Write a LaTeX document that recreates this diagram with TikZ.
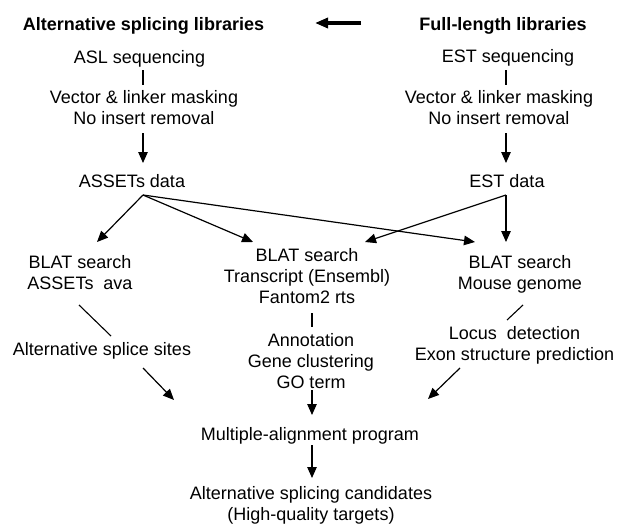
\documentclass[tikz,border=0pt]{standalone}
\usepackage{fontspec}
\setmainfont{Liberation Sans}
\usetikzlibrary{arrows.meta}
\begin{document}
\begin{tikzpicture}[x=1pt,y=-1pt,
  txt/.style={font=\fontsize{18}{20.8}\selectfont, inner sep=0pt, outer sep=0pt, align=center, anchor=base},
  ttl/.style={txt, font=\fontsize{18}{20.8}\selectfont\bfseries},
  arr/.style={line width=1.2pt, -{Triangle[length=11pt,width=9.5pt]}},
  ln/.style={line width=1.1pt},
  big/.style={line width=3.3pt, -{Triangle[length=13pt,width=10pt]}}]
\useasboundingbox (0,0) rectangle (618,525);

% titles (anchor = baseline; multi-line nodes are placed by their last baseline)
\node[ttl] (tl) at (143.5,30) {Alternative splicing libraries};
\node[ttl] (tr) at (503,30) {Full-length libraries};
\coordinate (bigS) at (361,23);
\coordinate (bigE) at (315,23);
\draw[big] (bigS) -- (bigE);

% left column top
\node[txt] (asl) at (139.5,63) {ASL sequencing};
\node[txt] (vecL) at (144,124) {Vector \& linker masking\\No insert removal};
\node[txt] (assets) at (132,187) {ASSETs data};

% right column top
\node[txt] (ests) at (508,62) {EST sequencing};
\node[txt] (vecR) at (499,124) {Vector \& linker masking\\No insert removal};
\node[txt] (est) at (507,187) {EST data};

% BLAT searches
\node[txt] (b1) at (80,289) {BLAT search\\ASSETs~ ava};
\node[txt] (b2) at (307,303) {BLAT search\\Transcript (Ensembl)\\Fantom2 rts};
\node[txt] (b3) at (520,289) {BLAT search\\Mouse genome};

% analyses
\node[txt] (alt) at (102,355) {Alternative splice sites};
\node[txt] (ann) at (311,388) {Annotation\\Gene clustering\\GO term};
\node[txt] (loc) at (514.5,360) {Locus~ detection\\Exon structure prediction};

% final
\node[txt] (mul) at (310,440) {Multiple-alignment program};
\node[txt] (cand) at (311,520) {Alternative splicing candidates\\(High-quality targets)};

% connector end points
\coordinate (aslOut) at (143,70);   \coordinate (vecLIn) at (143,85);
\coordinate (vecLOut) at (143,133); \coordinate (assetsIn) at (143,163);
\coordinate (estsOut) at (506,70);  \coordinate (vecRIn) at (506,85);
\coordinate (vecROut) at (506,133); \coordinate (estIn) at (506,163);
\coordinate (assetsOut) at (143,195);
\coordinate (estOut) at (506,195);
\coordinate (b1In) at (97,242);
\coordinate (b2InL) at (253,242);
\coordinate (b2InR) at (365,242);
\coordinate (b3InL) at (475,242);
\coordinate (b3InR) at (506,242);
\coordinate (b1Out) at (79,305);   \coordinate (altIn) at (111,336);
\coordinate (b2Out) at (312,313);  \coordinate (annIn) at (312,327);
\coordinate (b3Out) at (523,305);  \coordinate (locIn) at (507,320);
\coordinate (altOut) at (143,368); \coordinate (mulInL) at (174,400);
\coordinate (annOut) at (312,390); \coordinate (mulIn) at (312,415);
\coordinate (locOut) at (460,368); \coordinate (mulInR) at (428,399);
\coordinate (mulOut) at (312,445); \coordinate (candIn) at (312,478);

% connectors
\draw[ln] (aslOut) -- (vecLIn);
\draw[arr] (vecLOut) -- (assetsIn);
\draw[ln] (estsOut) -- (vecRIn);
\draw[arr] (vecROut) -- (estIn);
\draw[arr] (assetsOut) -- (b1In);
\draw[arr] (assetsOut) -- (b2InL);
\draw[arr] (assetsOut) -- (b3InL);
\draw[arr] (estOut) -- (b2InR);
\draw[arr] (estOut) -- (b3InR);
\draw[ln] (b1Out) -- (altIn);
\draw[ln] (b2Out) -- (annIn);
\draw[ln] (b3Out) -- (locIn);
\draw[arr] (altOut) -- (mulInL);
\draw[arr] (annOut) -- (mulIn);
\draw[arr] (locOut) -- (mulInR);
\draw[arr] (mulOut) -- (candIn);
\end{tikzpicture}
\end{document}
